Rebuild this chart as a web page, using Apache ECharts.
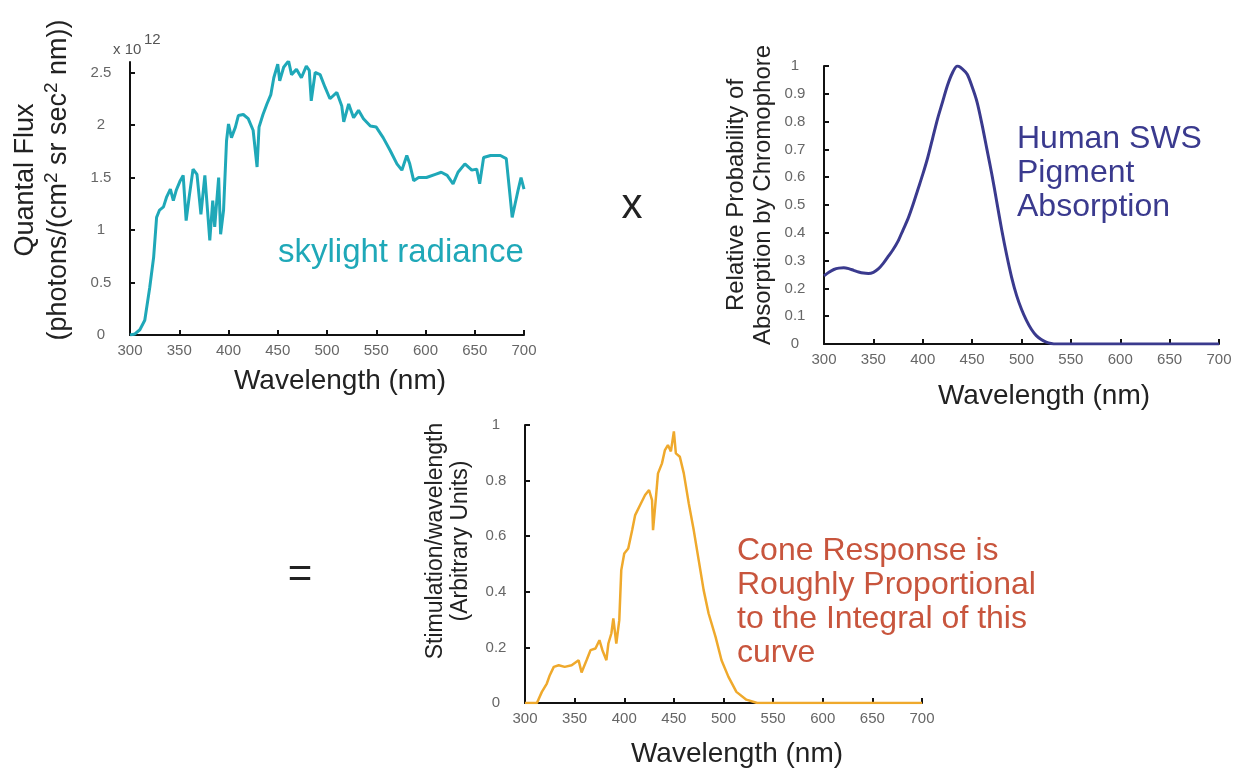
<!DOCTYPE html>
<html>
<head>
<meta charset="utf-8">
<script src="https://cdn.jsdelivr.net/npm/echarts@6/dist/echarts.min.js"></script>
<style>
  html, body { margin: 0; padding: 0; background: #fff; }
  #main { width: 1247px; height: 768px; }
</style>
</head>
<body>
<div id="main"></div>
<script>
// skylight radiance (x 10^12 photons/(cm2 sr sec2 nm))
var skyWl = [300, 305, 310, 315, 320, 324, 327, 330, 334, 337, 341, 344, 347, 351, 354, 357, 360, 364, 368, 372,
    376, 379, 381, 384, 386, 390, 392, 395, 398, 400, 403, 407, 410, 415, 420, 425, 429, 431, 435, 439,
    443, 446, 450, 452, 456, 461, 464, 469, 474, 479, 482, 484, 488, 493, 498, 503, 510, 515, 517, 522,
    527, 532, 537, 544, 550, 557, 564, 571, 576, 581, 584, 588, 593, 601, 610, 616, 622, 628, 633, 640,
    647, 652, 655, 659, 666, 676, 682, 686, 688, 691, 694, 697, 700];
var skyVal = [0.0, 0.01, 0.05, 0.14, 0.45, 0.74, 1.12, 1.19, 1.22, 1.31, 1.39, 1.28, 1.38, 1.47, 1.52, 1.09, 1.31, 1.58, 1.53, 1.15,
    1.52, 1.15, 0.90, 1.28, 1.03, 1.50, 0.96, 1.19, 1.85, 2.01, 1.88, 1.98, 2.09, 2.10, 2.06, 1.95, 1.60, 1.98, 2.10, 2.20,
    2.29, 2.45, 2.58, 2.42, 2.55, 2.61, 2.48, 2.53, 2.45, 2.56, 2.52, 2.23, 2.50, 2.48, 2.36, 2.25, 2.31, 2.18, 2.03, 2.20,
    2.07, 2.14, 2.06, 1.99, 1.98, 1.88, 1.76, 1.63, 1.57, 1.71, 1.63, 1.47, 1.50, 1.50, 1.53, 1.55, 1.52, 1.44, 1.55, 1.63,
    1.57, 1.58, 1.44, 1.69, 1.71, 1.71, 1.68, 1.31, 1.12, 1.25, 1.38, 1.50, 1.39];

// human SWS pigment absorption
var pigWl = [300, 305, 310, 315, 320, 325, 330, 335, 340, 345, 350, 355, 360, 365, 370, 375, 380, 385, 390, 395,
    400, 405, 410, 415, 420, 425, 430, 435, 440, 445, 450, 455, 460, 465, 470, 475, 480, 485, 490, 495,
    500, 505, 510, 515, 520, 525, 530, 535, 700];
var pigVal = [0.245, 0.258, 0.268, 0.273, 0.274, 0.271, 0.265, 0.259, 0.255, 0.254, 0.258, 0.27, 0.29, 0.315, 0.34, 0.37, 0.41, 0.45, 0.50, 0.555,
    0.61, 0.67, 0.74, 0.81, 0.87, 0.93, 0.975, 1.0, 0.99, 0.97, 0.925, 0.87, 0.79, 0.70, 0.61, 0.51, 0.41, 0.32, 0.24, 0.175,
    0.125, 0.085, 0.053, 0.03, 0.016, 0.007, 0.002, 0, 0];

// stimulation per wavelength
var stimWl = [300, 312, 317, 322, 325, 329, 334, 340, 347, 354, 357, 362, 366, 371, 375, 378, 382, 384, 387, 389,
    392, 395, 397, 400, 404, 408, 411, 416, 421, 425, 428, 429, 432, 434, 438, 441, 444, 447, 450, 452,
    456, 460, 465, 470, 475, 480, 485, 492, 498, 505, 513, 523, 534, 700];
var stimVal = [0, 0, 0.04, 0.07, 0.10, 0.13, 0.136, 0.13, 0.136, 0.154, 0.11, 0.154, 0.19, 0.196, 0.226, 0.19, 0.154, 0.214, 0.25, 0.304,
    0.214, 0.298, 0.478, 0.538, 0.556, 0.622, 0.676, 0.712, 0.748, 0.766, 0.73, 0.622, 0.742, 0.826, 0.862, 0.91, 0.928, 0.905, 0.977, 0.898,
    0.886, 0.826, 0.718, 0.622, 0.514, 0.406, 0.322, 0.238, 0.154, 0.094, 0.04, 0.012, 0, 0];

function pairs(xs, ys) {
    var out = [];
    for (var i = 0; i < xs.length; i++) out.push([xs[i], ys[i]]);
    return out;
}

var font = "'Liberation Sans', Arial, Helvetica, sans-serif";
var teal = '#1fa8b8', navy = '#3a3a8e', orange = '#efa92c', rust = '#c8553d';

function xAx(idx) {
    return {
        type: 'value', gridIndex: idx, min: 300, max: 700, interval: 50,
        axisLine: { lineStyle: { color: '#111', width: 2 } },
        axisTick: { inside: true, length: 5, lineStyle: { color: '#111', width: 2 } },
        axisLabel: { color: '#666', fontSize: 15, fontFamily: font, margin: 8 },
        splitLine: { show: false }
    };
}
function yAx(idx, max, step, showMax) {
    return {
        type: 'value', gridIndex: idx, min: 0, max: max, interval: step,
        axisLine: { show: true, lineStyle: { color: '#111', width: 2 } },
        axisTick: { show: true, inside: true, length: 5, lineStyle: { color: '#111', width: 2 } },
        axisLabel: { color: '#666', fontSize: 15, fontFamily: font, align: 'center', margin: 29, showMaxLabel: showMax },
        splitLine: { show: false }
    };
}

var chart = echarts.init(document.getElementById('main'));
chart.setOption({
    backgroundColor: '#fff',
    animation: false,
    grid: [
        { left: 130, top: 62, width: 394, height: 273 },
        { left: 824, top: 66, width: 395, height: 278 },
        { left: 525, top: 425, width: 397, height: 278 }
    ],
    xAxis: [xAx(0), xAx(1), xAx(2)],
    yAxis: [yAx(0, 2.6, 0.5, false), yAx(1, 1, 0.1, true), yAx(2, 1, 0.2, true)],
    series: [
        { type: 'line', xAxisIndex: 0, yAxisIndex: 0, data: pairs(skyWl, skyVal), showSymbol: false,
          lineStyle: { color: teal, width: 3 } },
        { type: 'line', xAxisIndex: 1, yAxisIndex: 1, data: pairs(pigWl, pigVal), showSymbol: false, smooth: 0.3,
          lineStyle: { color: navy, width: 3 } },
        { type: 'line', xAxisIndex: 2, yAxisIndex: 2, data: pairs(stimWl, stimVal), showSymbol: false,
          lineStyle: { color: orange, width: 2.5 } }
    ],
    graphic: [
        // exponent label
        { type: 'text', x: 113, y: 50, style: { text: 'x 10', fontSize: 15, fontFamily: font, fill: '#555', verticalAlign: 'middle' } },
        { type: 'text', x: 144, y: 40, style: { text: '12', fontSize: 15, fontFamily: font, fill: '#555', verticalAlign: 'middle' } },
        // y titles
        { type: 'text', x: 42, y: 180, rotation: Math.PI / 2,
          style: { text: '{m|Quantal Flux}\n{m|(photons/(cm}{s|2}{m| sr sec}{s|2}{m| nm))}', align: 'center', verticalAlign: 'middle',
                   fill: '#222', fontFamily: font,
                   rich: { m: { fontSize: 27, lineHeight: 33, fontFamily: font, fill: '#222' },
                           s: { fontSize: 19, lineHeight: 33, verticalAlign: 'top', fontFamily: font, fill: '#222' } } } },
        { type: 'text', x: 750, y: 195, rotation: Math.PI / 2,
          style: { text: 'Relative Probability of\nAbsorption by Chromophore', align: 'center', verticalAlign: 'middle',
                   fontSize: 24, lineHeight: 27, fontFamily: font, fill: '#222' } },
        { type: 'text', x: 448, y: 541, rotation: Math.PI / 2,
          style: { text: 'Stimulation/wavelength\n(Arbitrary Units)', align: 'center', verticalAlign: 'middle',
                   fontSize: 23, lineHeight: 25, fontFamily: font, fill: '#222' } },
        // x titles
        { type: 'text', x: 340, y: 381, style: { text: 'Wavelength (nm)', align: 'center', verticalAlign: 'middle', fontSize: 28, fontFamily: font, fill: '#222' } },
        { type: 'text', x: 1044, y: 396, style: { text: 'Wavelength (nm)', align: 'center', verticalAlign: 'middle', fontSize: 28, fontFamily: font, fill: '#222' } },
        { type: 'text', x: 737, y: 754, style: { text: 'Wavelength (nm)', align: 'center', verticalAlign: 'middle', fontSize: 28, fontFamily: font, fill: '#222' } },
        // annotations
        { type: 'text', x: 278, y: 253, style: { text: 'skylight radiance', verticalAlign: 'middle', fontSize: 33, fontFamily: font, fill: teal } },
        { type: 'text', x: 1017, y: 173, style: { text: 'Human SWS\nPigment\nAbsorption', verticalAlign: 'middle', fontSize: 32, lineHeight: 34, fontFamily: font, fill: navy } },
        { type: 'text', x: 737, y: 602, style: { text: 'Cone Response is\nRoughly Proportional\nto the Integral of this\ncurve', verticalAlign: 'middle', fontSize: 32, lineHeight: 34, fontFamily: font, fill: rust } },
        { type: 'text', x: 632, y: 206, style: { text: 'x', align: 'center', verticalAlign: 'middle', fontSize: 42, fontFamily: font, fill: '#222' } },
        { type: 'text', x: 300, y: 575, style: { text: '=', align: 'center', verticalAlign: 'middle', fontSize: 42, fontFamily: font, fill: '#222' } }
    ]
});
</script>
</body>
</html>
